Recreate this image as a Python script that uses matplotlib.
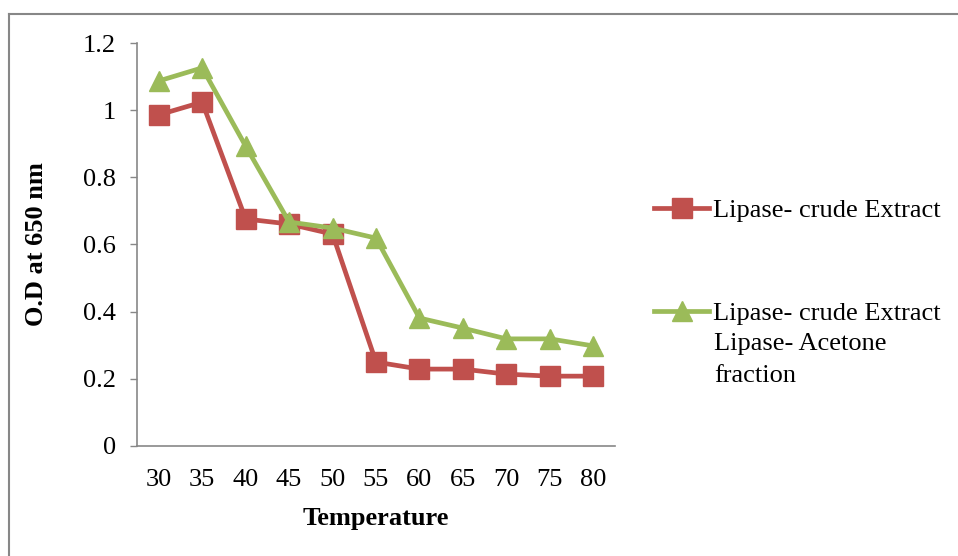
import matplotlib.pyplot as plt
from matplotlib.lines import Line2D

plt.rcParams['font.family'] = ['Liberation Serif', 'DejaVu Serif']

temps = ['30', '35', '40', '45', '50', '55', '60', '65', '70', '75', '80']
crude = [0.986, 1.024, 0.676, 0.661, 0.631, 0.250, 0.229, 0.229, 0.214, 0.208, 0.208]
acetone = [1.087, 1.126, 0.893, 0.667, 0.649, 0.619, 0.381, 0.351, 0.319, 0.319, 0.298]
y_ticks = [0, 0.2, 0.4, 0.6, 0.8, 1, 1.2]
y_labels = ['0', '0.2', '0.4', '0.6', '0.8', '1', '1.2']

W, H = 958, 556
FS = 19
fig = plt.figure(figsize=(W / 100, H / 100), dpi=100)
ax = fig.add_axes([137 / W, 1 - 446 / H, (615 - 137) / W, (446 - 43) / H])

x = list(range(len(temps)))
ax.plot(x, crude, color='#C0504D', lw=3.4, marker='s', ms=14,
        label='Lipase- crude Extract')
ax.plot(x, acetone, color='#9BBB59', lw=3.4, marker='^', ms=15,
        label='Lipase- crude Extract')

ax.set_xlim(-0.5, len(temps) - 0.5)
ax.set_ylim(0, 1.2)
ax.set_xticks(x)
ax.set_xticklabels(temps)
ax.set_yticks(y_ticks)
ax.set_yticklabels(y_labels)
ax.tick_params(axis='x', length=0, pad=16.5, labelsize=FS)
ax.tick_params(axis='y', length=5, width=1, color='#878787', pad=10, labelsize=FS)
for s in ['top', 'right']:
    ax.spines[s].set_visible(False)
for s in ['left', 'bottom']:
    ax.spines[s].set_color('#878787')
    ax.spines[s].set_linewidth(1.2)

ax.set_xlabel('Temperature', fontsize=FS, fontweight='bold')
ax.set_ylabel('O.D at 650 nm', fontsize=FS, fontweight='bold')
ax.xaxis.set_label_coords(0.5, (446 - 507) / 403)
ax.yaxis.set_label_coords((48 - 137) / 478, 0.5)

ax.legend(loc='upper left', bbox_to_anchor=(654 / W, 1 - 199 / H),
          bbox_transform=fig.transFigure, frameon=False, fontsize=FS,
          handlelength=2.1, handletextpad=0.15, labelspacing=3.0,
          borderaxespad=0, borderpad=0)
# continuation of the second (wrapped) legend label
fig.text(714 / W, 1 - 333 / H, 'Lipase- Acetone\nfraction', fontsize=FS,
         va='top', ha='left', linespacing=1.6)

# outer chart frame
fig.add_artist(Line2D([9 / W, 1], [1 - 14 / H, 1 - 14 / H], color='#878787', lw=1.5))
fig.add_artist(Line2D([9 / W, 9 / W], [0, 1 - 14 / H], color='#878787', lw=1.5))

fig.savefig('out.png', dpi=100)
